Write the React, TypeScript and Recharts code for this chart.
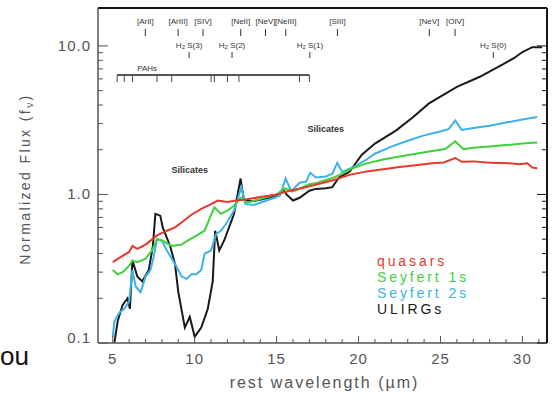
import React from "react";
import {
  LineChart,
  Line,
  XAxis,
  YAxis,
  ReferenceLine,
  ReferenceDot,
  Legend,
  Label,
} from "recharts";

// rest wavelength (um) / normalized flux
const qsoWave = [5.0, 5.5, 6.0, 6.2, 6.5, 7.0, 7.7, 8.3, 8.8, 9.3, 9.8, 10.4, 11.0, 11.4, 12.0, 12.5, 13.0, 14.0, 15.0, 15.5, 16.5, 17.5, 18.5, 19.5, 20.5, 21.5, 22.5, 23.5, 24.5, 25.2, 25.9, 26.3, 27.0, 27.8, 28.5, 29.2, 29.8, 30.3, 30.6, 30.9];
const qsoFlux = [0.35, 0.38, 0.41, 0.45, 0.43, 0.46, 0.53, 0.57, 0.6, 0.66, 0.73, 0.8, 0.86, 0.91, 0.89, 0.91, 0.92, 0.96, 1.0, 1.04, 1.1, 1.17, 1.25, 1.36, 1.43, 1.48, 1.53, 1.57, 1.62, 1.64, 1.76, 1.66, 1.67, 1.64, 1.63, 1.62, 1.6, 1.62, 1.52, 1.5];

const sy1Wave = [5.0, 5.3, 5.6, 6.0, 6.2, 6.5, 7.0, 7.4, 7.7, 8.0, 8.6, 9.2, 9.6, 10.0, 10.6, 11.2, 11.6, 12.0, 12.4, 12.8, 13.2, 14.0, 15.0, 15.5, 16.0, 17.0, 17.5, 18.5, 19.5, 20.5, 21.5, 22.5, 23.5, 24.5, 25.3, 25.9, 26.4, 27.0, 28.0, 29.0, 30.0, 30.9];
const sy1Flux = [0.31, 0.29, 0.3, 0.33, 0.36, 0.35, 0.37, 0.42, 0.5, 0.49, 0.45, 0.46, 0.49, 0.52, 0.57, 0.82, 0.74, 0.78, 0.84, 0.95, 0.88, 0.93, 1.0, 1.1, 1.05, 1.17, 1.2, 1.3, 1.48, 1.62, 1.72, 1.8, 1.88, 1.96, 2.02, 2.28, 2.02, 2.06, 2.1, 2.15, 2.2, 2.24];

const sy2Wave = [5.0, 5.1, 5.4, 5.7, 6.0, 6.2, 6.4, 6.7, 7.0, 7.3, 7.5, 7.7, 8.0, 8.3, 8.8, 9.2, 9.5, 9.8, 10.1, 10.4, 10.6, 11.0, 11.3, 11.6, 11.9, 12.4, 12.85, 13.1, 13.6, 14.4, 15.2, 15.55, 15.9, 16.4, 16.8, 17.05, 17.4, 18.0, 18.4, 18.7, 19.0, 19.9, 20.5, 21.0, 22.0, 23.0, 24.0, 24.8, 25.5, 25.9, 26.3, 27.0, 28.0, 29.0, 30.0, 30.9];
const sy2Flux = [0.11, 0.14, 0.16, 0.17, 0.19, 0.31, 0.24, 0.22, 0.28, 0.31, 0.38, 0.5, 0.49, 0.42, 0.34, 0.28, 0.27, 0.29, 0.29, 0.31, 0.4, 0.42, 0.54, 0.57, 0.63, 0.78, 1.12, 0.86, 0.85, 0.91, 0.98, 1.28, 1.05, 1.2, 1.22, 1.4, 1.3, 1.32, 1.38, 1.63, 1.42, 1.57, 1.72, 1.88, 2.1, 2.3, 2.5, 2.62, 2.75, 3.15, 2.72, 2.8, 2.9, 3.05, 3.2, 3.32];

const ulirgWave = [5.1, 5.3, 5.6, 5.9, 6.05, 6.2, 6.5, 6.8, 7.2, 7.45, 7.6, 7.9, 8.05, 8.5, 8.8, 9.0, 9.4, 9.7, 10.0, 10.4, 10.8, 11.1, 11.25, 11.5, 11.8, 12.4, 12.8, 13.0, 13.5, 14.2, 15.0, 15.4, 15.6, 16.0, 16.4, 17.0, 17.4, 18.0, 18.4, 18.8, 19.45, 20.2, 21.0, 22.3, 23.3, 24.3, 25.2, 26.0, 27.4, 28.8, 29.5, 30.0, 30.6, 31.2];
const ulirgFlux = [0.1, 0.14, 0.18, 0.2, 0.17, 0.36, 0.28, 0.26, 0.31, 0.45, 0.74, 0.72, 0.6, 0.45, 0.34, 0.22, 0.127, 0.15, 0.11, 0.127, 0.17, 0.26, 0.57, 0.42, 0.49, 0.74, 1.28, 0.92, 0.9, 0.93, 0.98, 1.08, 1.0, 0.91, 0.95, 1.06, 1.09, 1.1, 1.12, 1.3, 1.42, 1.85, 2.2, 2.7, 3.3, 4.1, 4.7, 5.3, 6.2, 7.5, 8.3, 9.1, 9.8, 9.8];

const xTicks = [5, 6, 7, 8, 9, 10, 11, 12, 13, 14, 15, 16, 17, 18, 19, 20, 21, 22, 23, 24, 25, 26, 27, 28, 29, 30, 31];
const yTicks = [0.1, 0.2, 0.3, 0.4, 0.5, 0.6, 0.7, 0.8, 0.9, 1, 2, 3, 4, 5, 6, 7, 8, 9, 10];
const yMajor = [0.1, 1, 10];

const ionLines = [
  { name: "[ArII]", wl: 6.99 },
  { name: "[ArIII]", wl: 8.99 },
  { name: "[SIV]", wl: 10.51 },
  { name: "[NeII]", wl: 12.81 },
  { name: "[NeV]", wl: 14.32 },
  { name: "[NeIII]", wl: 15.56 },
  { name: "[SIII]", wl: 18.71 },
  { name: "[NeV]", wl: 24.32 },
  { name: "[OIV]", wl: 25.89 },
];
const h2Lines = [
  { name: "S(3)", wl: 9.66 },
  { name: "S(2)", wl: 12.28 },
  { name: "S(1)", wl: 17.03 },
  { name: "S(0)", wl: 28.22 },
];
const pahBands = [5.27, 5.7, 6.2, 7.7, 8.6, 11.0, 11.2, 12.0, 12.7, 16.4, 17.0];
const silicates = [9.7, 18.0];

const AXIS = "#555";
const FRAME = "#151515";
const TXT = "#555";
const FONT = "'Liberation Sans', Arial, sans-serif";

const series = [
  { name: "quasars", color: "#e8382e", wave: qsoWave, flux: qsoFlux },
  { name: "Seyfert 1s", color: "#3fd13c", wave: sy1Wave, flux: sy1Flux },
  { name: "Seyfert 2s", color: "#3bb3e8", wave: sy2Wave, flux: sy2Flux },
  { name: "ULIRGs", color: "#1a1a1a", wave: ulirgWave, flux: ulirgFlux },
];

const W = 552;
const H = 404;
const TOP = 8;
const BOTTOM = 343;
// flux value sitting a given pixel row down the frame (annotation placement only)
const yAt = (py: number) => 0.1 * Math.pow(180, (BOTTOM - py) / (BOTTOM - TOP));

const BottomTick = ({ x, y, payload }: any) => {
  const major = payload.value % 5 === 0;
  return (
    <g>
      <line x1={x} x2={x} y1={y} y2={y - (major ? 7 : 4)} stroke={AXIS} />
      {major && (
        <text x={x} y={y + 21} textAnchor="middle" fontSize={15} letterSpacing={1} fill={TXT} fontFamily={FONT}>
          {payload.value}
        </text>
      )}
    </g>
  );
};

const TopTick = ({ x, y, payload }: any) => {
  const major = payload.value % 5 === 0;
  return <line x1={x} x2={x} y1={y} y2={y + (major ? 7 : 4)} stroke={FRAME} />;
};

const LeftTick = ({ x, y, payload }: any) => {
  const v = payload.value;
  const major = yMajor.includes(v);
  return (
    <g>
      <line x1={x} x2={x + (major ? 10 : 5)} y1={y} y2={y} stroke={AXIS} />
      {major && (
        <text x={x - 7} y={v === 0.1 ? y : y + 5} textAnchor="end" fontSize={15} letterSpacing={1} fill={TXT} fontFamily={FONT}>
          {v.toFixed(1)}
        </text>
      )}
    </g>
  );
};

const RightTick = ({ x, y, payload }: any) => {
  const major = yMajor.includes(payload.value);
  return <line x1={x} x2={x - (major ? 10 : 5)} y1={y} y2={y} stroke={FRAME} />;
};

const note = (text: React.ReactNode, size: number, bold = false) => (p: any) => (
  <text
    x={p.cx}
    y={p.cy}
    textAnchor="middle"
    dominantBaseline="central"
    fontSize={size}
    fontWeight={bold ? "bold" : "normal"}
    fill="#333"
    fontFamily={FONT}
  >
    {text}
  </text>
);

const LegendBox = () => (
  <div style={{ fontFamily: FONT, fontSize: 14, lineHeight: "16px", letterSpacing: 2.9 }}>
    {series.map((s) => (
      <div key={s.name} style={{ color: s.color, height: 16 }}>
        {s.name}
      </div>
    ))}
  </div>
);

export default function App() {
  const drawn = [...series].reverse();
  return (
    <div style={{ position: "absolute", left: 0, top: 0, width: W, height: H, background: "#fff" }}>
      <LineChart width={W} height={H} margin={{ top: 0, right: 0, bottom: 0, left: 0 }}>
        <XAxis
          dataKey="wl"
          type="number"
          domain={[4.1, 31.5]}
          allowDataOverflow
          ticks={xTicks}
          interval={0}
          tick={<BottomTick />}
          tickLine={false}
          tickSize={0}
          tickMargin={0}
          height={61}
          axisLine={{ stroke: AXIS, strokeWidth: 1.5 }}
        >
          <Label
            content={(p: any) => (
              <text
                x={p.viewBox.x + p.viewBox.width / 2 + 2}
                y={p.viewBox.y + 45}
                textAnchor="middle"
                fontSize={16}
                letterSpacing={2}
                fill={TXT}
                fontFamily={FONT}
              >
                rest wavelength (µm)
              </text>
            )}
          />
        </XAxis>
        <XAxis
          xAxisId="top"
          orientation="top"
          type="number"
          domain={[4.1, 31.5]}
          allowDataOverflow
          ticks={xTicks}
          interval={0}
          tick={<TopTick />}
          tickLine={false}
          tickSize={0}
          tickMargin={0}
          height={TOP}
          axisLine={{ stroke: FRAME, strokeWidth: 2 }}
        />
        <YAxis
          type="number"
          scale="log"
          domain={[0.1, 18]}
          allowDataOverflow
          ticks={yTicks}
          interval={0}
          tick={<LeftTick />}
          tickLine={false}
          tickSize={0}
          tickMargin={0}
          width={98}
          axisLine={{ stroke: AXIS, strokeWidth: 1.5 }}
        >
          <Label
            content={() => {
              const cx = 30;
              const cy = 179;
              return (
                <text
                  x={cx}
                  y={cy}
                  transform={`rotate(-90 ${cx} ${cy})`}
                  textAnchor="middle"
                  fontSize={14}
                  letterSpacing={2.4}
                  fill={TXT}
                  fontFamily={FONT}
                >
                  Normalized Flux (f<tspan fontSize={10} dy={3}>ν</tspan>
                  <tspan dy={-3}>)</tspan>
                </text>
              );
            }}
          />
        </YAxis>
        <YAxis
          yAxisId="right"
          orientation="right"
          type="number"
          scale="log"
          domain={[0.1, 18]}
          allowDataOverflow
          ticks={yTicks}
          interval={0}
          tick={<RightTick />}
          tickLine={false}
          tickSize={0}
          tickMargin={0}
          width={5}
          axisLine={{ stroke: FRAME, strokeWidth: 2 }}
        />

        {ionLines.map((l, i) => (
          <ReferenceLine
            key={`ion-${i}`}
            segment={[{ x: l.wl, y: yAt(29) }, { x: l.wl, y: yAt(36) }]}
            stroke="#333"
            ifOverflow="visible"
          />
        ))}
        {ionLines.map((l, i) => (
          <ReferenceDot key={`ionl-${i}`} x={l.wl} y={yAt(21)} r={0} ifOverflow="visible" shape={note(l.name, 8)} />
        ))}
        {h2Lines.map((l, i) => (
          <ReferenceLine
            key={`h2-${i}`}
            segment={[{ x: l.wl, y: yAt(52) }, { x: l.wl, y: yAt(58) }]}
            stroke="#333"
            ifOverflow="visible"
          />
        ))}
        {h2Lines.map((l, i) => (
          <ReferenceDot
            key={`h2l-${i}`}
            x={l.wl}
            y={yAt(45)}
            r={0}
            ifOverflow="visible"
            shape={note(
              <>
                H<tspan fontSize={6} dy={2}>2</tspan>
                <tspan dy={-2}> {l.name}</tspan>
              </>,
              8
            )}
          />
        ))}
        <ReferenceLine
          segment={[
            { x: pahBands[0], y: yAt(75) },
            { x: pahBands[pahBands.length - 1], y: yAt(75) },
          ]}
          stroke="#555"
          strokeWidth={2}
          ifOverflow="visible"
        />
        {pahBands.map((b, i) => (
          <ReferenceLine
            key={`pah-${i}`}
            segment={[{ x: b, y: yAt(75) }, { x: b, y: yAt(82) }]}
            stroke="#444"
            ifOverflow="visible"
          />
        ))}
        <ReferenceDot x={7.1} y={yAt(68)} r={0} ifOverflow="visible" shape={note("PAHs", 8)} />
        {silicates.map((s, i) => (
          <ReferenceDot
            key={`sil-${i}`}
            x={s}
            y={yAt(i === 0 ? 170 : 129)}
            r={0}
            ifOverflow="visible"
            shape={note("Silicates", 9, true)}
          />
        ))}

        {drawn.map((s) => (
          <Line
            key={s.name}
            name={s.name}
            data={s.wave.map((wl, i) => ({ wl, f: s.flux[i] }))}
            dataKey="f"
            stroke={s.color}
            strokeWidth={2}
            dot={false}
            type="linear"
            isAnimationActive={false}
          />
        ))}
        <Legend
          layout="vertical"
          align="center"
          verticalAlign="middle"
          wrapperStyle={{ left: 377, top: 253, width: "auto" }}
          content={<LegendBox />}
        />
      </LineChart>
      <span
        style={{
          position: "absolute",
          left: 0,
          top: 342,
          fontFamily: FONT,
          fontSize: 26,
          lineHeight: "28px",
          color: "#111",
        }}
      >
        ou
      </span>
    </div>
  );
}
